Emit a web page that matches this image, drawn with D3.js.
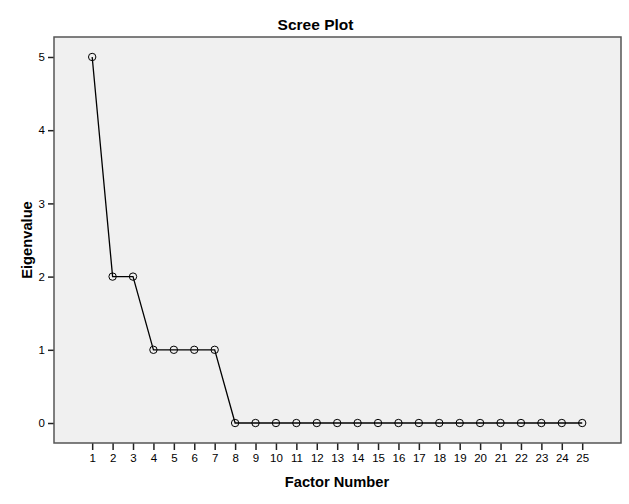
<!DOCTYPE html>
<html><head><meta charset="utf-8">
<script src="https://cdn.jsdelivr.net/npm/d3@7"></script>
<style>
html,body{margin:0;padding:0;background:#fff;}
svg{display:block;font-family:"Liberation Sans",Arial,sans-serif;}
</style></head><body>
<svg id="chart" width="629" height="504"></svg>
<script>
const factors = d3.range(1, 26);
const eigenvalues = [5, 2, 2, 1, 1, 1, 1, 0, 0, 0, 0, 0, 0, 0, 0, 0, 0, 0, 0, 0, 0, 0, 0, 0, 0];
const yTicks = [0, 1, 2, 3, 4, 5];
const title = "Scree Plot";
const xTitle = "Factor Number";
const yTitle = "Eigenvalue";

const svg = d3.select("#chart");
const plot = {left: 54, right: 621, top: 37, bottom: 443};

const x = d3.scaleLinear().domain([1 - 1.87, 25 + 1.9]).range([plot.left, plot.right]);
const y = d3.scaleLinear().domain([-0.273, 5.273]).range([plot.bottom, plot.top]);

svg.append("rect").attr("x", plot.left).attr("y", plot.top)
  .attr("width", plot.right - plot.left).attr("height", plot.bottom - plot.top)
  .attr("fill", "#f0f0f0");

// axes
const yAxis = svg.append("g").attr("transform", `translate(${plot.left},0)`)
  .call(d3.axisLeft(y).tickValues(yTicks).tickSize(6).tickPadding(3).tickFormat(d3.format("d")));
const xAxis = svg.append("g").attr("transform", `translate(0,${plot.bottom})`)
  .call(d3.axisBottom(x).tickValues(factors).tickSize(7).tickPadding(4).tickFormat(d3.format("d")));
[xAxis, yAxis].forEach(g => {
  g.select(".domain").remove();
  g.selectAll(".tick line").attr("stroke", "#222").attr("stroke-width", 1.5);
  g.selectAll(".tick text").attr("fill", "#000").style("font-size", "11.5px")
    .style("font-family", '"Liberation Sans",Arial,sans-serif');
});

// frame
svg.append("rect").attr("x", plot.left).attr("y", plot.top)
  .attr("width", plot.right - plot.left).attr("height", plot.bottom - plot.top)
  .attr("fill", "none").attr("stroke", "#555").attr("stroke-width", 1.5);

const data = factors.map((f, i) => ({f, v: eigenvalues[i]}));
svg.append("path").datum(data)
  .attr("fill", "none").attr("stroke", "#000").attr("stroke-width", 1.3)
  .attr("d", d3.line().x(d => x(d.f)).y(d => y(d.v)));
svg.append("g").selectAll("circle").data(data).join("circle")
  .attr("cx", d => x(d.f)).attr("cy", d => y(d.v)).attr("r", 3.7)
  .attr("fill", "none").attr("stroke", "#000").attr("stroke-width", 1);

svg.append("text").attr("x", 315.5).attr("y", 30).attr("text-anchor", "middle")
  .style("font-size", "15.5px").style("font-weight", "bold").text(title);
svg.append("text").attr("x", 337).attr("y", 487).attr("text-anchor", "middle")
  .style("font-size", "14.7px").style("font-weight", "bold").text(xTitle);
svg.append("text").attr("transform", `translate(32,240) rotate(-90)`)
  .attr("text-anchor", "middle")
  .style("font-size", "14.7px").style("font-weight", "bold").text(yTitle);
</script>
</body></html>
